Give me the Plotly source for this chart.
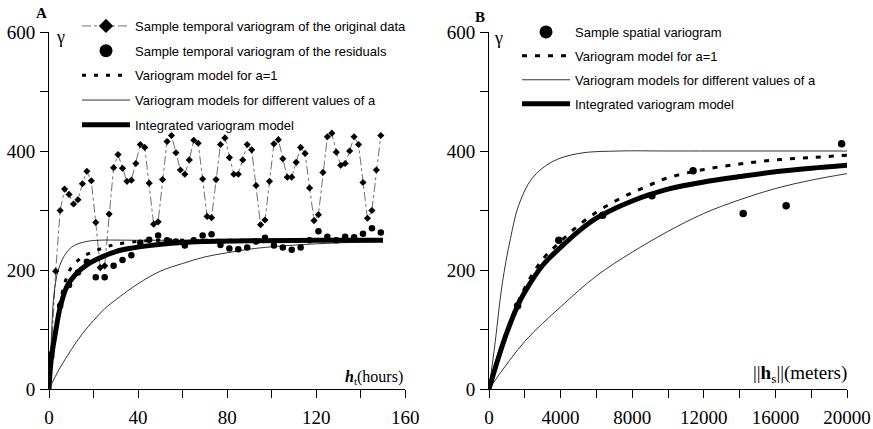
import plotly.graph_objects as go

# ---------------- Panel A (temporal) ----------------
lag_orig = list(range(1, 150, 2))
gamma_orig = [60, 198, 300, 336, 327, 311, 318, 345, 366, 350,
              280, 204, 207, 294, 372, 394, 371, 349, 351, 379,
              411, 406, 346, 277, 281, 352, 416, 426, 397, 368,
              361, 385, 418, 413, 353, 290, 288, 352, 411, 422,
              389, 361, 361, 385, 411, 402, 342, 276, 284, 349,
              412, 419, 387, 356, 356, 381, 406, 396, 338, 283,
              293, 364, 424, 430, 398, 376, 379, 400, 424, 411,
              347, 287, 300, 368, 426]

lag_res = list(range(1, 150, 4))
gamma_res = [55, 140, 175, 196, 214, 188, 188, 207, 217, 225,
             246, 251, 258, 250, 248, 241, 250, 258, 260, 242,
             236, 235, 238, 248, 254, 241, 238, 234, 238, 250,
             265, 256, 250, 256, 255, 261, 270, 263]

a1_h = [0, 1, 2, 4, 6, 8, 10, 15, 20, 25, 30, 40, 50, 70, 100, 150]
a1_v = [0, 40, 72, 125, 163, 188, 204, 222, 231, 238, 243, 248, 250, 250, 250, 250]

fastA_h = [0, 1, 2, 3, 4, 6, 8, 10, 13, 17, 22, 40, 80, 150]
fastA_v = [0, 80, 150, 180, 198, 218, 230, 238, 244, 248, 250, 250, 250, 250]
slowA_h = [0, 5, 10, 15, 20, 25, 30, 40, 50, 60, 70, 80, 90, 100, 120, 150]
slowA_v = [0, 36, 66, 93, 115, 135, 150, 177, 198, 211, 222, 229, 235, 239, 244, 248]

intA_h = [0, 1, 3, 5, 8, 12, 18, 25, 30, 36, 45, 55, 70, 90, 120, 150]
intA_v = [0, 50, 97, 137, 172, 193, 211, 224, 231, 236, 241, 245, 248, 249, 250, 250]

# ---------------- Panel B (spatial) ----------------
lag_sp = [1600, 3900, 6350, 9100, 11400, 14200, 16600, 19700]
gamma_sp = [140, 250, 292, 325, 367, 295, 308, 412]

a1B_h = [0, 1000, 2000, 3000, 4000, 5000, 6000, 7000, 8000, 9000, 10000, 12000, 14000, 16000, 18000, 20000]
a1B_v = [0, 98, 170, 218, 248, 275, 297, 315, 330, 343, 355, 369, 378, 385, 389, 393]

fastB_h = [0, 350, 730, 1200, 1660, 2410, 3530, 5030, 7270, 10000, 15000, 20000]
fastB_v = [0, 80, 175, 253, 309, 354, 382, 396, 400, 400, 400, 400]
slowB_h = [0, 2000, 4000, 6000, 8000, 10000, 12000, 14000, 16000, 18000, 20000]
slowB_v = [0, 80, 138, 190, 230, 265, 295, 318, 337, 351, 362]

intB_h = [0, 500, 1000, 1600, 2000, 3000, 4000, 5000, 6000, 7000, 8000, 9000, 10000, 12000, 14000, 16000, 18000, 20000]
intB_v = [0, 50, 95, 140, 163, 208, 238, 265, 287, 303, 316, 327, 336, 348, 357, 365, 371, 376]

# ---------------- tick labels ----------------
xA_ticks = [0, 40, 80, 120, 160]
xA_labels = ["0", "40", "80", "120", "160"]
xB_ticks = [0, 4000, 8000, 12000, 16000, 20000]
xB_labels = ["0", "4000", "8000", "12000", "16000", "20000"]
y_ticks = [0, 200, 400, 600]
y_labels = ["0", "200", "400", "600"]

SERIF = "Liberation Serif, Times New Roman, serif"
SANS = "Liberation Sans, Arial, sans-serif"

fig = go.Figure()


def add(tr, group, legend, xa, ya, show=True):
    tr.update(legendgroup=group, legend=legend, xaxis=xa, yaxis=ya, showlegend=show)
    fig.add_trace(tr)


DASHDOT = dict(color="#333", width=0.7, dash="dashdot")

# Panel A traces
add(go.Scatter(x=lag_orig, y=gamma_orig, mode="lines+markers",
               name="Sample temporal variogram of the original data",
               line=DASHDOT,
               marker=dict(symbol="diamond", size=5.5, color="black")), "a1", "legend", "x", "y", False)
add(go.Scatter(x=[None], y=[None], mode="lines+markers",
               name="Sample temporal variogram of the original data",
               line=DASHDOT,
               marker=dict(symbol="diamond", size=11, color="black")), "a1", "legend", "x", "y")
add(go.Scatter(x=lag_res, y=gamma_res, mode="markers",
               name="Sample temporal variogram of the residuals",
               marker=dict(symbol="circle", size=6.5, color="black")), "a2", "legend", "x", "y", False)
add(go.Scatter(x=[None], y=[None], mode="markers",
               name="Sample temporal variogram of the residuals",
               marker=dict(symbol="circle", size=13, color="black")), "a2", "legend", "x", "y")
add(go.Scatter(x=a1_h, y=a1_v, mode="lines", line_shape="spline",
               name="Variogram model for a=1",
               line=dict(color="black", width=3, dash="4px,8px")), "a3", "legend", "x", "y")
add(go.Scatter(x=fastA_h + [None] + slowA_h, y=fastA_v + [None] + slowA_v, mode="lines",
               line_shape="spline", connectgaps=False,
               name="Variogram models for different values of a",
               line=dict(color="black", width=0.8)), "a4", "legend", "x", "y")
add(go.Scatter(x=intA_h, y=intA_v, mode="lines", line_shape="spline",
               name="Integrated variogram model",
               line=dict(color="black", width=5)), "a5", "legend", "x", "y")

# Panel B traces
add(go.Scatter(x=lag_sp, y=gamma_sp, mode="markers",
               name="Sample spatial variogram",
               marker=dict(symbol="circle", size=7.5, color="black")), "b1", "legend2", "x2", "y2", False)
add(go.Scatter(x=[None], y=[None], mode="markers",
               name="Sample spatial variogram",
               marker=dict(symbol="circle", size=13, color="black")), "b1", "legend2", "x2", "y2")
add(go.Scatter(x=a1B_h, y=a1B_v, mode="lines", line_shape="spline",
               name="Variogram model for a=1",
               line=dict(color="black", width=3, dash="5px,8px")), "b2", "legend2", "x2", "y2")
add(go.Scatter(x=fastB_h + [None] + slowB_h, y=fastB_v + [None] + slowB_v, mode="lines",
               line_shape="spline", connectgaps=False,
               name="Variogram models for different values of a",
               line=dict(color="black", width=0.8)), "b3", "legend2", "x2", "y2")
add(go.Scatter(x=intB_h, y=intB_v, mode="lines", line_shape="spline",
               name="Integrated variogram model",
               line=dict(color="black", width=5)), "b4", "legend2", "x2", "y2")

L, R, T, B = 48.7, 26.3, 31.5, 40
W, H = 873, 429
PW = W - L - R
PH = H - T - B


def px(xp):
    return (xp - L) / PW


def cx(xp):
    return xp / W


def cy(yp):
    return 1 - yp / H


def ax(xp):
    return (xp - L) / PW


def ay(yp):
    return (H - B - yp) / PH


axis_common = dict(showgrid=False, zeroline=False, showline=True, linecolor="black",
                   linewidth=1, ticks="outside", ticklen=8, tickwidth=1, tickcolor="black",
                   automargin=False,
                   tickfont=dict(family=SERIF, size=19, color="black"))

LEGFONT = dict(family=SANS, size=13, color="black")

fig.update_layout(
    width=W, height=H, margin=dict(l=L, r=R, t=T, b=B, autoexpand=False),
    paper_bgcolor="white", plot_bgcolor="white",
    showlegend=True,
    xaxis=dict(domain=[0, px(405)], range=[0, 160], tickmode="array",
               tickvals=xA_ticks, ticktext=xA_labels, ticklabelstandoff=3,
               minor=dict(dtick=20, ticks="outside", ticklen=8, tickcolor="black"),
               **axis_common),
    yaxis=dict(domain=[0, 1], range=[0, 600], tickmode="array",
               tickvals=y_ticks, ticktext=y_labels, ticklabelstandoff=1,
               minor=dict(dtick=100, ticks="outside", ticklen=8, tickcolor="black"),
               **axis_common),
    xaxis2=dict(domain=[px(488.7), 1], range=[0, 20000], anchor="y2", tickmode="array",
                tickvals=xB_ticks, ticktext=xB_labels, ticklabelstandoff=3,
                minor=dict(dtick=2000, ticks="outside", ticklen=8, tickcolor="black"),
                **axis_common),
    yaxis2=dict(domain=[0, 1], range=[0, 600], anchor="x2", tickmode="array",
                tickvals=y_ticks, ticktext=y_labels, ticklabelstandoff=1,
                minor=dict(dtick=100, ticks="outside", ticklen=8, tickcolor="black"),
                **axis_common),
    legend=dict(xref="container", yref="container", x=cx(77), y=cy(11),
                xanchor="left", yanchor="top",
                bgcolor="rgba(0,0,0,0)", font=LEGFONT,
                traceorder="grouped", tracegroupgap=4.8, itemwidth=48, itemsizing="trace"),
    legend2=dict(xref="container", yref="container", x=cx(517), y=cy(17),
                 xanchor="left", yanchor="top",
                 bgcolor="rgba(0,0,0,0)", font=LEGFONT,
                 traceorder="grouped", tracegroupgap=4, itemwidth=48, itemsizing="trace"),
    annotations=[
        dict(text="<b>A</b>", x=ax(41), y=ay(12), xref="paper", yref="paper",
             xanchor="center", yanchor="middle",
             showarrow=False, font=dict(family=SERIF, size=15, color="black")),
        dict(text="<b>B</b>", x=ax(480), y=ay(16), xref="paper", yref="paper",
             xanchor="center", yanchor="middle",
             showarrow=False, font=dict(family=SERIF, size=15, color="black")),
        dict(text="γ", x=ax(60), y=ay(37), xref="paper", yref="paper",
             xanchor="center", yanchor="middle",
             showarrow=False, font=dict(family=SERIF, size=18, color="black")),
        dict(text="γ", x=ax(498), y=ay(38), xref="paper", yref="paper",
             xanchor="center", yanchor="middle",
             showarrow=False, font=dict(family=SERIF, size=18, color="black")),
        dict(text="<b><i>h</i></b><sub>t</sub>(hours)", x=ax(405), y=ay(389),
             xref="paper", yref="paper", xanchor="right", yanchor="bottom",
             showarrow=False, font=dict(family=SERIF, size=16, color="black")),
        dict(text="||<b>h</b><sub>s</sub>||(meters)", x=ax(849), y=ay(388),
             xref="paper", yref="paper", xanchor="right", yanchor="bottom",
             showarrow=False, font=dict(family=SERIF, size=19, color="black")),
    ],
)

fig.write_html("out.html")
